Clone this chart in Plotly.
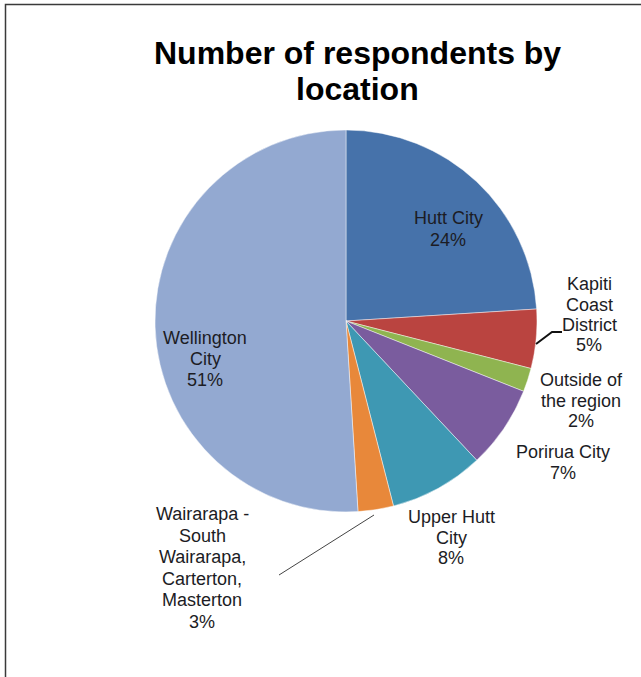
import plotly.graph_objects as go

# Survey respondents by location (% of all respondents)
locations = [
    "Hutt City",
    "Kapiti Coast District",
    "Outside of the region",
    "Porirua City",
    "Upper Hutt City",
    "Wairarapa - South Wairarapa, Carterton, Masterton",
    "Wellington City",
]
shares = [24, 5, 2, 7, 8, 3, 51]
slice_colors = ["#4672AA", "#BA4440", "#8FB450", "#7A5C9E", "#3E98B3", "#E8883A", "#93A9D1"]

title_lines = ["Number of respondents by", "location"]

# How each category name is broken across lines in its label
label_wrap = {
    "Hutt City": ["Hutt City"],
    "Kapiti Coast District": ["Kapiti", "Coast", "District"],
    "Outside of the region": ["Outside of", "the region"],
    "Porirua City": ["Porirua City"],
    "Upper Hutt City": ["Upper Hutt", "City"],
    "Wairarapa - South Wairarapa, Carterton, Masterton":
        ["Wairarapa -", "South", "Wairarapa,", "Carterton,", "Masterton"],
    "Wellington City": ["Wellington", "City"],
}
# Label placement (pixel centre x, y of first line, line step)
label_pos = {
    "Hutt City": (448, 218, 21.5),
    "Kapiti Coast District": (589, 284, 20.5),
    "Outside of the region": (581, 380, 20.5),
    "Porirua City": (563, 452, 20.5),
    "Upper Hutt City": (451, 517, 20.5),
    "Wairarapa - South Wairarapa, Carterton, Masterton": (202, 514, 21.6),
    "Wellington City": (205, 338, 21),
}

W, H = 641, 677


def px(x, y):
    return x / W, 1 - y / H


fig = go.Figure(
    go.Pie(
        labels=locations,
        values=shares,
        sort=False,
        direction="clockwise",
        rotation=0,
        textinfo="none",
        hoverinfo="label+percent",
        marker=dict(colors=slice_colors, line=dict(color="rgba(255,255,255,0.45)", width=1)),
        domain=dict(x=[155 / W, 537 / W], y=[1 - 512 / H, 1 - 130 / H]),
        showlegend=False,
    )
)

annotations = []
font_family = "Liberation Sans, Arial, sans-serif"

# Title, one annotation per line for tight line spacing
for i, line in enumerate(title_lines):
    x, y = px(357, 53 + i * 36)
    annotations.append(dict(
        x=x, y=y, xref="paper", yref="paper", text=f"<b>{line}</b>", showarrow=False,
        xanchor="center", yanchor="middle",
        font=dict(family=font_family, size=32, color="#000000"),
    ))

# Slice labels: wrapped name followed by the percentage
for name, value in zip(locations, shares):
    cx, y0, step = label_pos[name]
    lines = label_wrap[name] + [f"{value}%"]
    for i, line in enumerate(lines):
        x, y = px(cx, y0 + i * step)
        annotations.append(dict(
            x=x, y=y, xref="paper", yref="paper", text=line, showarrow=False,
            xanchor="center", yanchor="middle",
            font=dict(family=font_family, size=18, color="#1c1c24"),
        ))

shapes = []


def path(points):
    d = ""
    for k, (x, y) in enumerate(points):
        u, v = px(x, y)
        d += ("M" if k == 0 else "L") + f"{u},{v} "
    return d.strip()


# Leader lines for the two small slices
shapes.append(dict(type="path", xref="paper", yref="paper",
                   path=path([(536, 344), (552, 332), (562, 332)]),
                   line=dict(color="#111111", width=2)))
shapes.append(dict(type="path", xref="paper", yref="paper",
                   path=path([(374, 515), (279, 575)]),
                   line=dict(color="#444444", width=1)))
# Chart frame (left and top edges)
shapes.append(dict(type="path", xref="paper", yref="paper",
                   path=path([(5.5, 677), (5.5, 4.5), (641, 4.5)]),
                   line=dict(color="#3a3a3a", width=1.5)))

fig.update_layout(
    width=W,
    height=H,
    margin=dict(l=0, r=0, t=0, b=0),
    paper_bgcolor="white",
    plot_bgcolor="white",
    annotations=annotations,
    shapes=shapes,
)

fig.write_html("out.html")
